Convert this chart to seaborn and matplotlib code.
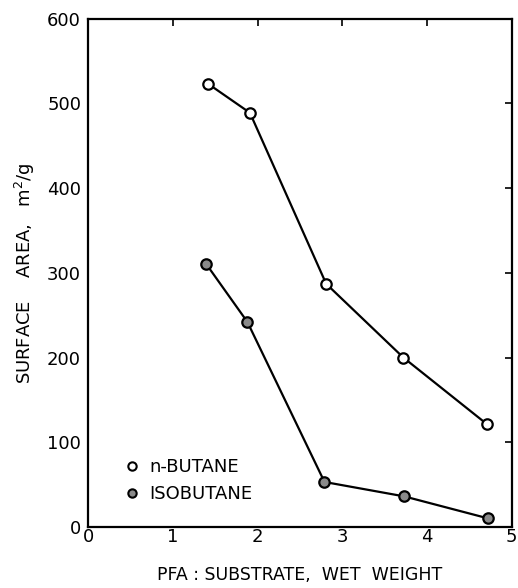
import matplotlib
matplotlib.use("Agg")
import matplotlib.pyplot as plt
import seaborn as sns
import pandas as pd
from matplotlib.lines import Line2D

# Data
nbutane_x = [1.42, 1.91, 2.81, 3.72, 4.71]
nbutane_y = [523, 489, 287, 200, 121]
isobutane_x = [1.39, 1.88, 2.79, 3.73, 4.72]
isobutane_y = [311, 242, 53, 36, 10]
series_names = ["n-BUTANE", "ISOBUTANE"]
x_ticks = [0, 1, 2, 3, 4, 5]
y_ticks = [0, 100, 200, 300, 400, 500, 600]

sns.set_theme(style="white")
plt.rcParams['font.family'] = ['DejaVu Sans']
plt.rcParams['text.color'] = 'black'
plt.rcParams['axes.labelcolor'] = 'black'

df = pd.concat([
    pd.DataFrame({"x": nbutane_x, "y": nbutane_y, "series": series_names[0]}),
    pd.DataFrame({"x": isobutane_x, "y": isobutane_y, "series": series_names[1]}),
])

fig = plt.figure(figsize=(5.18, 5.88), dpi=100)
ax = fig.add_axes([0.170, 0.104, 0.818, 0.864])

face = {series_names[0]: "white", series_names[1]: "#8a8a8a"}
for name in series_names:
    sub = df[df["series"] == name]
    sns.lineplot(data=sub, x="x", y="y", ax=ax, color="black", lw=1.6,
                 marker="o", markersize=7.5, markerfacecolor=face[name],
                 markeredgecolor="black", markeredgewidth=1.6, label=name,
                 estimator=None, sort=False)

ax.set_xlim(0, 5)
ax.set_ylim(0, 600)
ax.set_xticks(x_ticks)
ax.set_yticks(y_ticks)
ax.set_xticklabels([str(t) for t in x_ticks])
ax.set_yticklabels([str(t) for t in y_ticks])
ax.tick_params(axis="both", direction="in", length=5, width=1.2,
               top=True, right=True, labelsize=13, colors="black", pad=5)
ax.tick_params(axis="x", pad=1)
for s in ax.spines.values():
    s.set_color("black")
    s.set_linewidth(1.6)

ax.set_xlabel("PFA : SUBSTRATE,  WET  WEIGHT", fontsize=12.5, labelpad=14)
ax.set_ylabel("SURFACE    AREA,   m$^2$/g", fontsize=13)
ax.yaxis.set_label_coords(-0.12, 0.5)

handles = []
for name in series_names:
    handles.append(Line2D([], [], ls="none", marker="o", markersize=6,
                          markerfacecolor=face[name], markeredgecolor="black",
                          markeredgewidth=1.5))
leg = ax.legend(handles, series_names, loc="lower left",
                bbox_to_anchor=(0.043, 0.015), frameon=False, fontsize=13,
                handletextpad=0.5, labelspacing=0.5, handlelength=1.0)
for t in leg.get_texts():
    t.set_color("black")

fig.savefig("out.png", dpi=100, facecolor="white")
